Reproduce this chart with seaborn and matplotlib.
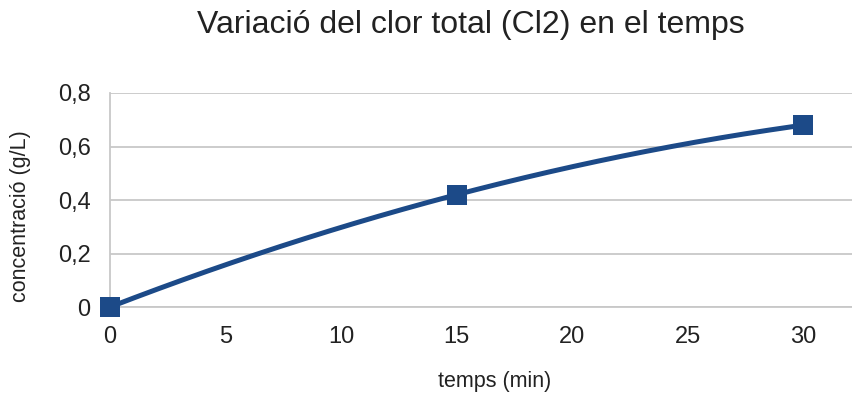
import numpy as np
import pandas as pd
import matplotlib
matplotlib.use("Agg")
import matplotlib.pyplot as plt
import seaborn as sns

# Measurements
temps = [0, 15, 30]
concentracio = [0.0, 0.42, 0.68]
y_ticks = [0, 0.2, 0.4, 0.6, 0.8]
y_tick_labels = ["0", "0,2", "0,4", "0,6", "0,8"]
x_ticks = [0, 5, 10, 15, 20, 25, 30]

sns.set_theme(style="white")
plt.rcParams["font.family"] = ["Liberation Sans", "DejaVu Sans"]

color = "#1c4a88"
grid_color = "#c8c8c8"
text_color = "#222222"

df = pd.DataFrame({"temps": temps, "conc": concentracio})

# smooth curve through the measured points (quadratic passes exactly through all three)
coef = np.polyfit(df["temps"], df["conc"], 2)
xs = np.linspace(min(temps), max(temps), 200)
curve = pd.DataFrame({"temps": xs, "conc": np.polyval(coef, xs)})

fig = plt.figure(figsize=(8.53, 3.94), dpi=100)
ax = fig.add_axes([110 / 853, 87 / 394, 742 / 853, 214 / 394])

sns.lineplot(data=curve, x="temps", y="conc", ax=ax, color=color, linewidth=3.6,
             solid_capstyle="round", zorder=3)
sns.scatterplot(data=df, x="temps", y="conc", ax=ax, color=color, marker="s",
                s=190, edgecolor=color, linewidth=0, zorder=4, clip_on=False)

ax.set_xlim(0, 32.1)
ax.set_ylim(0, 0.8)
ax.set_xticks(x_ticks)
ax.set_xticklabels([str(t) for t in x_ticks], fontsize=17, color=text_color)
ax.set_yticks(y_ticks)
ax.set_yticklabels(y_tick_labels, fontsize=17, color=text_color)

ax.yaxis.grid(True, color=grid_color, linewidth=1.3)
ax.xaxis.grid(False)
ax.set_axisbelow(True)

for side in ["top", "right"]:
    ax.spines[side].set_visible(False)
for side in ["left", "bottom"]:
    ax.spines[side].set_color(grid_color)
    ax.spines[side].set_linewidth(1.3)

ax.tick_params(axis="both", which="major", direction="out", length=9,
               width=1.1, color=grid_color, pad=5)

ax.set_xlabel("")
ax.set_ylabel("")
fig.text(495 / 853, 1 - 381 / 394, "temps (min)", ha="center", va="center",
         fontsize=15.5, color=text_color)
fig.text(21 / 853, 1 - 216 / 394, "concentració (g/L)", ha="center", va="center",
         rotation=90, fontsize=15.5, color=text_color)
fig.text(471 / 853, 1 - 25 / 394, "Variació del clor total (Cl2) en el temps",
         ha="center", va="center", fontsize=23, color=text_color)

fig.savefig("out.png", dpi=100)
